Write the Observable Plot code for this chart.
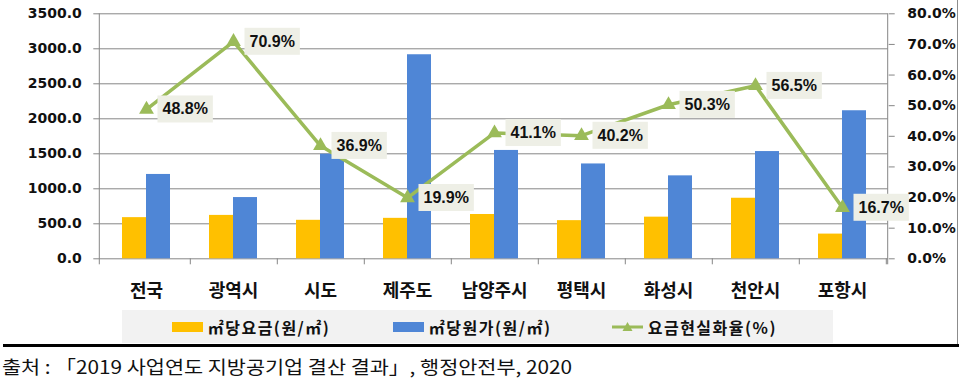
<!DOCTYPE html>
<html><head><meta charset="utf-8">
<script src="https://cdn.jsdelivr.net/npm/d3@7"></script>
<script src="https://cdn.jsdelivr.net/npm/@observablehq/plot@0.6"></script>
<style>
body{margin:0;background:#fff;}
#wrap{position:relative;width:970px;height:389px;overflow:hidden;font-family:"Noto Sans CJK KR",sans-serif;color:#111;}
#chart{position:absolute;left:0;top:0;}
#legend{position:absolute;left:122px;top:310px;width:711px;height:33px;background:#f2f2f2;}
.litem{position:absolute;top:0;height:33px;display:flex;align-items:center;font-size:16px;font-weight:bold;letter-spacing:1.5px;white-space:nowrap;}
#frameR{position:absolute;left:957px;top:0;width:1px;height:345px;background:#8c8c8c;}
#rule{position:absolute;left:3px;top:344px;width:956px;height:3px;background:#000;}
#caption{position:absolute;left:2px;top:354px;font-size:18px;line-height:24px;white-space:nowrap;transform-origin:0 0;}
</style></head><body>
<div id="wrap">
  <div id="chart"></div>
  <div id="legend"></div>
  <div id="frameR"></div>
  <div id="rule"></div>
  <div id="caption"></div>
</div>
<script>
// ---- data ----
const categories = ["전국","광역시","시도","제주도","남양주시","평택시","화성시","천안시","포항시"];
const priceValues = [588, 620, 550, 578, 633, 545, 595, 865, 353];      // ㎡당요금
const costValues = [1205, 875, 1495, 2915, 1548, 1355, 1185, 1532, 2115]; // ㎡당원가
const ratioValues = [48.8, 70.9, 36.9, 19.9, 41.1, 40.2, 50.3, 56.5, 16.7]; // 요금현실화율(%)
const leftTicks = [0, 500, 1000, 1500, 2000, 2500, 3000, 3500];
const rightTicks = [0, 10, 20, 30, 40, 50, 60, 70, 80];
const seriesNames = ["㎡당요금(원/㎡)", "㎡당원가(원/㎡)", "요금현실화율(%)"];
const seriesColors = ["#ffc000", "#4f86d6", "#9bbb59"];
const captionText = "출처 : 「2019 사업연도 지방공기업 결산 결과」, 행정안전부, 2020";

// ---- layout ----
const Y_MAX = 3500, P_MAX = 80;
const toLeft = p => p * Y_MAX / P_MAX;
const W = 970, H = 305, ML = 99.3, MR = 82.3, MT = 13.3, MB = 46.7;
const step = (W - ML - MR) / categories.length;
const barW = 24;
const pIn = 1 - barW / step, pOut = pIn / 2;

const rows = categories.map((c, i) => ({
  c, price: priceValues[i], cost: costValues[i], ratio: ratioValues[i], ry: toLeft(ratioValues[i])
}));

const chart = Plot.plot({
  width: W, height: H, marginLeft: ML, marginRight: MR, marginTop: MT, marginBottom: MB,
  x: {domain: categories, paddingInner: pIn, paddingOuter: pOut},
  y: {domain: [0, Y_MAX]},
  style: {fontFamily: "DejaVu Sans", background: "transparent", overflow: "visible", color: "#111"},
  marks: [
    Plot.gridY(leftTicks, {stroke: "#868686", strokeOpacity: 1, strokeWidth: 1}),
    Plot.barY(rows, {x: "c", y: "price", fill: seriesColors[0], dx: -barW / 2}),
    Plot.barY(rows, {x: "c", y: "cost", fill: seriesColors[1], dx: barW / 2}),
    Plot.axisY(leftTicks, {anchor: "left", tickSize: 6, tickPadding: 12, tickFormat: d3.format(".1f"),
      fontSize: 14, fontWeight: "bold", stroke: "#868686", fill: "#111", label: null}),
    Plot.axisY(rightTicks.map(toLeft), {anchor: "right", tickSize: 6, tickPadding: 13,
      tickFormat: d => (d * P_MAX / Y_MAX).toFixed(1) + "%",
      fontSize: 14, fontWeight: "bold", stroke: "#868686", fill: "#111", label: null}),
    Plot.axisX({tickSize: 0, tickPadding: 25, fontSize: 18, fontWeight: "bold",
      fontFamily: "Noto Sans CJK KR", fill: "#111", label: null}),
    Plot.axisX({tickSize: 6, tickFormat: () => "", dx: step / 2, stroke: "#868686", label: null}),
    Plot.line(rows, {x: "c", y: "ry", stroke: seriesColors[2], strokeWidth: 3.5}),
    Plot.dot(rows, {x: "c", y: "ry", symbol: "triangle", fill: seriesColors[2], r: 5.5}),
    Plot.text(rows, {x: "c", y: "ry", text: d => d.ratio.toFixed(1) + "%", dx: 16, textAnchor: "start",
      fontSize: 16, fontWeight: "bold", fontFamily: "Liberation Sans", fill: "#111"})
  ]
});
document.getElementById("chart").appendChild(chart);

// vertical axis lines at both ends of the x range
const xr = chart.scale("x").range, yr = chart.scale("y").range;
const svg = d3.select(chart);
[xr[0], xr[1]].forEach(x => {
  svg.append("line").attr("x1", x).attr("x2", x).attr("y1", yr[1]).attr("y2", yr[0] + 6)
    .attr("stroke", "#868686").attr("stroke-width", 1);
});
// label background boxes: the plain text mark (not an axis) is the one with aria-label "text"
const labelGroups = [];
svg.selectAll("g").each(function () {
  const texts = Array.from(this.children).filter(n => n.tagName === "text");
  if (texts.length === categories.length && texts.every(t => /%$/.test(t.textContent)) &&
      !/axis/.test(this.getAttribute("aria-label") || "")) labelGroups.push(this);
});
labelGroups.forEach(g => {
  Array.from(g.children).filter(n => n.tagName === "text").forEach(txt => {
    const b = txt.getBBox();
    const r = document.createElementNS("http://www.w3.org/2000/svg", "rect");
    r.setAttribute("x", b.x - 5); r.setAttribute("y", b.y - 5);
    r.setAttribute("width", b.width + 10); r.setAttribute("height", b.height + 10);
    r.setAttribute("fill", "#eeefe6");
    const t = txt.getAttribute("transform");
    if (t) r.setAttribute("transform", t);
    g.insertBefore(r, txt);
  });
  chart.appendChild(g);
});

// ---- legend ----
const legend = document.getElementById("legend");
const itemLefts = [49.7, 270.8, 489.7];
seriesNames.forEach((name, i) => {
  const it = document.createElement("div");
  it.className = "litem";
  it.style.left = itemLefts[i] + "px";
  let sw;
  if (i < 2) {
    sw = `<svg width="31" height="10" style="margin-right:5px"><rect width="31" height="10" fill="${seriesColors[i]}"/></svg>`;
  } else {
    sw = `<svg width="31" height="12" style="margin-right:5px"><line x1="0" x2="31" y1="6" y2="6" stroke="${seriesColors[2]}" stroke-width="3"/><path d="M15.5,1 L20.5,10 L10.5,10 Z" fill="${seriesColors[2]}"/></svg>`;
  }
  it.innerHTML = sw + `<span>${name}</span>`;
  legend.appendChild(it);
});

// ---- caption ----
const cap = document.getElementById("caption");
cap.textContent = captionText;
const cw = cap.getBoundingClientRect().width;
cap.style.transform = `scaleX(${570 / cw})`;
</script>
</body></html>
